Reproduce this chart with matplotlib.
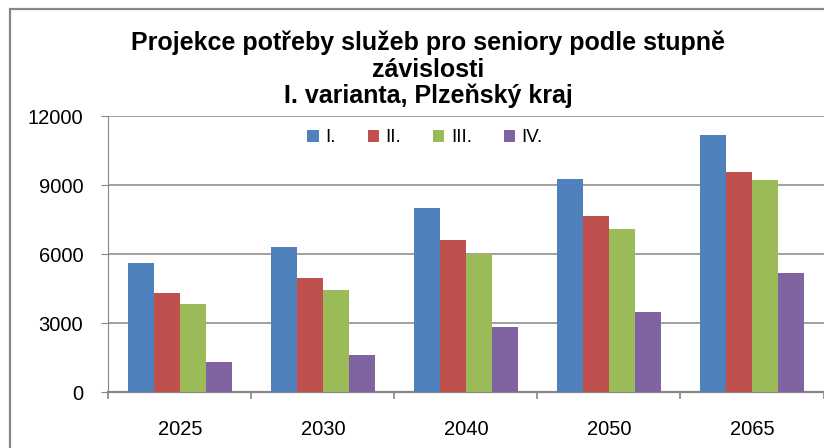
import numpy as np
import matplotlib
matplotlib.use("Agg")
import matplotlib.pyplot as plt
from matplotlib.patches import Rectangle
from matplotlib.ticker import FixedLocator

# data
years = ["2025", "2030", "2040", "2050", "2065"]
series_names = ["I.", "II.", "III.", "IV."]
stupen_1 = [5600, 6290, 8010, 9270, 11190]
stupen_2 = [4330, 4970, 6620, 7670, 9580]
stupen_3 = [3850, 4450, 6010, 7100, 9230]
stupen_4 = [1320, 1620, 2840, 3490, 5190]
colors = ["#4F81BD", "#C0504D", "#9BBB59", "#8064A2"]
yticks = [0, 3000, 6000, 9000, 12000]

title_lines = ["Projekce potřeby služeb pro seniory podle stupně",
               "závislosti",
               "I. varianta, Plzeňský kraj"]

plt.rcParams["font.family"] = ["Liberation Sans", "DejaVu Sans"]
GRAY = "#868686"
W, H = 824, 448

fig = plt.figure(figsize=(W / 100, H / 100), dpi=100)
fig.patch.set_facecolor("white")

# outer chart frame (right and bottom run off the image)
fig.add_artist(Rectangle((10 / W, -0.1), 1.2, 1.1 - 9 / H, transform=fig.transFigure,
                         fill=False, edgecolor=GRAY, linewidth=1.6))

# title, line by line
for txt, yb in zip(title_lines, [50, 77, 103]):
    fig.text(428 / W, 1 - yb / H, txt, ha="center", va="baseline",
             fontsize=18, fontweight="bold", color="black")

ax = fig.add_axes([108.3 / W, 55.7 / H, 715.2 / W, 276.3 / H])

x = np.arange(len(years))
w = 1 / 5.5
data = [stupen_1, stupen_2, stupen_3, stupen_4]
for i, (vals, name, c) in enumerate(zip(data, series_names, colors)):
    ax.bar(x + (i - 1.5) * w, vals, width=w, color=c, label=name, zorder=3)

ax.set_xlim(-0.5, len(years) - 0.5)
ax.set_ylim(0, 12000)
ax.set_yticks(yticks)
ax.set_yticklabels([str(v) for v in yticks])
ax.set_xticks(x)
ax.set_xticklabels(years)
ax.xaxis.set_minor_locator(FixedLocator(np.arange(-0.5, len(years), 1)))

ax.grid(axis="y", color=GRAY, linewidth=1.1, zorder=0)
ax.set_axisbelow(True)
for s in ["top", "right"]:
    ax.spines[s].set_visible(False)
ax.spines["left"].set_color(GRAY)
ax.spines["left"].set_linewidth(0.8)
ax.spines["bottom"].set_color(GRAY)
ax.spines["bottom"].set_linewidth(1.6)

ax.tick_params(axis="y", direction="out", length=5, width=0.8, color=GRAY,
               pad=13, labelsize=14.5)
ax.tick_params(axis="x", which="major", length=0, pad=20, labelsize=14.5)
ax.tick_params(axis="x", which="minor", direction="out", length=5, width=1.2, color=GRAY)

ax.legend(loc="center", bbox_to_anchor=(0.443, 0.921), ncol=4, frameon=False,
          fontsize=13.5, handlelength=0.6, handleheight=0.6, handletextpad=0.35,
          columnspacing=1.7)

fig.savefig("out.png", dpi=100)
